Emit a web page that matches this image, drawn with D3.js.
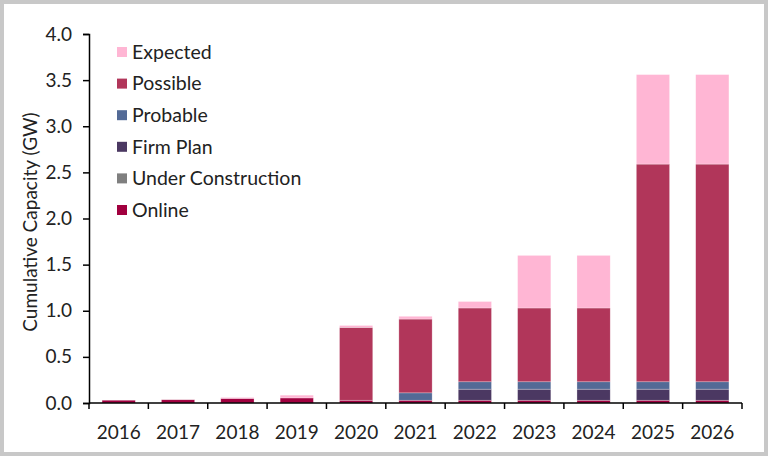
<!DOCTYPE html>
<html>
<head>
<meta charset="utf-8">
<script src="https://cdn.jsdelivr.net/npm/d3@7"></script>
<style>
html,body{margin:0;padding:0;background:#fff;}
svg{display:block;font-family:Lato, "Open Sans", sans-serif;}
</style>
</head>
<body>
<svg id="chart" width="768" height="456"></svg>
<script>
const years = ["2016","2017","2018","2019","2020","2021","2022","2023","2024","2025","2026"];
const seriesNames = ["Online","Under Construction","Firm Plan","Probable","Possible","Expected"];
const online            = [0.03,0.035,0.05,0.055,0.03,0.03,0.03,0.03,0.03,0.03,0.03];
const underConstruction = [0,0,0,0,0,0,0,0,0,0,0];
const firmPlan          = [0,0,0,0,0,0,0.12,0.12,0.12,0.12,0.12];
const probable          = [0,0,0,0,0,0.08,0.08,0.08,0.08,0.08,0.08];
const possible          = [0,0,0,0,0.79,0.80,0.80,0.80,0.80,2.36,2.36];
const expected          = [0,0,0.01,0.03,0.02,0.03,0.07,0.57,0.57,0.97,0.97];
const colors = ["#A1003F","#7F7F7F","#4B3862","#536A96","#B1365A","#FFB6D4"];
const yTicks = [0,0.5,1,1.5,2,2.5,3,3.5,4];
const legendOrder = ["Expected","Possible","Probable","Firm Plan","Under Construction","Online"];

const valueArrays = [online, underConstruction, firmPlan, probable, possible, expected];
const table = years.map((y,i)=>{
  const o = {year:y};
  seriesNames.forEach((s,k)=>o[s]=valueArrays[k][i]);
  return o;
});
const stacked = d3.stack().keys(seriesNames)(table);
const color = d3.scaleOrdinal().domain(seriesNames).range(colors);

const svg = d3.select("#chart");
// frame
svg.append("rect").attr("x",0).attr("y",0).attr("width",768).attr("height",456).attr("fill","#c8c8c8");
svg.append("rect").attr("x",4).attr("y",4).attr("width",760).attr("height",448).attr("fill","#fff");

const x = d3.scaleBand().domain(years).range([89,742]).paddingInner(0.44).paddingOuter(0.22);
const xb = d3.scaleBand().domain(years).range([89,742]);
const y = d3.scaleLinear().domain([0,4]).range([403,34]);

svg.append("g").selectAll("g").data(stacked).join("g")
  .attr("fill",d=>color(d.key))
  .selectAll("rect").data(d=>d).join("rect")
  .attr("x",d=>x(d.data.year))
  .attr("width",x.bandwidth())
  .attr("y",d=>y(d[1]))
  .attr("height",d=>Math.max(0,y(d[0])-y(d[1])))
  .attr("stroke","#fff").attr("stroke-opacity",0.45).attr("stroke-width",0.6);

// y axis
const yAxis = d3.axisLeft(y).tickValues(yTicks).tickFormat(d3.format(".1f")).tickSize(6).tickPadding(11);
const gy = svg.append("g").attr("transform","translate(89,0)").call(yAxis);
gy.select(".domain").attr("stroke","#000").attr("stroke-width",1.5);
gy.selectAll(".tick line").attr("stroke","#000").attr("stroke-width",1.5);
gy.selectAll("text").attr("font-size",19).attr("fill","#222").attr("font-family","Lato");

// x axis: ticks at category boundaries
const gx = svg.append("g").attr("transform","translate(0,403)");
gx.append("line").attr("x1",89).attr("x2",742).attr("stroke","#000").attr("stroke-width",1.5);
const bounds = years.map(d=>xb(d)).concat([xb(years[years.length-1])+xb.bandwidth()]);
gx.selectAll(".bt").data(bounds).join("line").attr("class","bt")
  .attr("x1",d=>d).attr("x2",d=>d).attr("y1",0).attr("y2",6)
  .attr("stroke","#000").attr("stroke-width",1.5);
gx.selectAll(".lbl").data(years).join("text").attr("class","lbl")
  .attr("x",d=>xb(d)+xb.bandwidth()/2).attr("y",36)
  .attr("text-anchor","middle").attr("font-size",19).attr("fill","#222").text(d=>d);

// y label
svg.append("text").attr("transform","translate(37,222) rotate(-90)")
  .attr("text-anchor","middle").attr("font-size",19).attr("fill","#222")
  .text("Cumulative Capacity (GW)");

// legend
const lg = svg.append("g");
legendOrder.forEach((name,i)=>{
  const yy = 52 + i*31.6;
  lg.append("rect").attr("x",117).attr("y",yy-5).attr("width",10).attr("height",10).attr("fill",color(name));
  lg.append("text").attr("x",132).attr("y",yy).attr("dy","0.35em").attr("font-size",19.5).attr("fill","#222").text(name);
});
</script>
</body>
</html>
